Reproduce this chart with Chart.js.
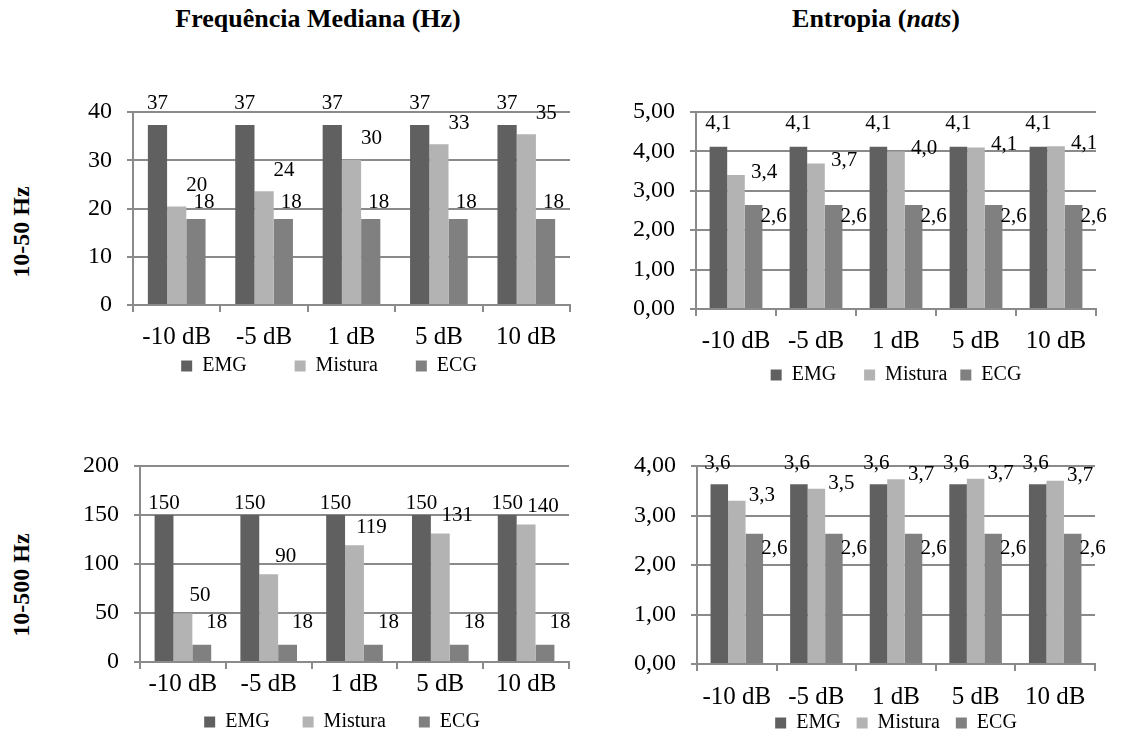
<!DOCTYPE html>
<html lang="pt">
<head>
<meta charset="utf-8">
<title>Frequência Mediana e Entropia</title>
<script src="https://cdn.jsdelivr.net/npm/chart.js@4.4.1/dist/chart.umd.min.js"></script>
<style>
  html, body { margin: 0; padding: 0; background: #fff; overflow: hidden; }
  body { width: 1132px; height: 735px; position: relative; font-family: 'Liberation Serif', 'Times New Roman', serif; color: #000; }
  .title { position: absolute; font-weight: bold; font-size: 26px; line-height: 1; transform: translateX(-50%); white-space: nowrap; }
  .rowlab { position: absolute; font-weight: bold; font-size: 24px; line-height: 1; transform: translate(-50%, -50%) rotate(-90deg); white-space: nowrap; }
  canvas { position: absolute; }
</style>
</head>
<body>
<div class="title" style="left:318px; top:6px;">Frequência Mediana (Hz)</div>
<div class="title" style="left:876px; top:6px;">Entropia (<i>nats</i>)</div>
<div class="rowlab" style="left:21px; top:232px;">10-50 Hz</div>
<div class="rowlab" style="left:21px; top:585px;">10-500 Hz</div>

<canvas id="c-fm50"></canvas>
<canvas id="c-ent50"></canvas>
<canvas id="c-fm500"></canvas>
<canvas id="c-ent500"></canvas>

<script>
// ---- data ----
const categories = ['-10 dB', '-5 dB', '1 dB', '5 dB', '10 dB'];
const seriesNames = ['EMG', 'Mistura', 'ECG'];

// 10-50 Hz, median frequency (Hz)
const fm50Emg     = [37.3, 37.3, 37.3, 37.3, 37.3];
const fm50Mistura = [20.4, 23.6, 30.1, 33.3, 35.4];
const fm50Ecg     = [17.8, 17.8, 17.8, 17.8, 17.8];
const fm50Ticks   = [0, 10, 20, 30, 40];

// 10-50 Hz, entropy (nats)
const ent50Emg     = [4.12, 4.12, 4.12, 4.12, 4.12];
const ent50Mistura = [3.40, 3.69, 4.00, 4.10, 4.13];
const ent50Ecg     = [2.64, 2.64, 2.64, 2.64, 2.64];
const ent50Ticks   = [0, 1, 2, 3, 4, 5];

// 10-500 Hz, median frequency (Hz)
const fm500Emg     = [150, 150, 150, 150, 150];
const fm500Mistura = [49.6, 89.6, 119.2, 131.0, 140.2];
const fm500Ecg     = [17.6, 17.6, 17.6, 17.6, 17.6];
const fm500Ticks   = [0, 50, 100, 150, 200];

// 10-500 Hz, entropy (nats)
const ent500Emg     = [3.63, 3.63, 3.63, 3.63, 3.63];
const ent500Mistura = [3.30, 3.54, 3.73, 3.74, 3.70];
const ent500Ecg     = [2.63, 2.63, 2.63, 2.63, 2.63];
const ent500Ticks   = [0, 1, 2, 3, 4];

// ---- styling ----
const FONT = 'Liberation Serif';
const GRID = '#8a8a8a';
const COLORS = ['#606060', '#b3b3b3', '#808080'];
const LEGEND_FS = 20;

Chart.defaults.font.family = FONT;
Chart.defaults.color = '#000';

const intFmt = (v) => String(Math.round(v));
const dec1 = (v) => v.toFixed(1).replace('.', ',');
const dec2 = (v) => Number(v).toFixed(2).replace('.', ',');

// value labels drawn next to each bar, offset per series (as placed in the original)
function valueLabels(offsets, fmt) {
  return {
    id: 'valueLabels',
    afterDatasetsDraw(chart) {
      const ctx = chart.ctx;
      ctx.save();
      ctx.font = '21px "' + FONT + '"';
      ctx.fillStyle = '#000';
      ctx.textAlign = 'center';
      ctx.textBaseline = 'middle';
      chart.data.datasets.forEach((ds, i) => {
        const [dx, dy] = offsets[i];
        chart.getDatasetMeta(i).data.forEach((bar, j) => {
          ctx.fillText(fmt(ds.data[j]), bar.x + dx, bar.y + dy);
        });
      });
      ctx.restore();
    },
  };
}

function makePanel(p) {
  const cv = document.getElementById(p.id);
  const b = p.box, a = p.area;
  cv.width = b.width;
  cv.height = b.height;
  cv.style.left = b.left + 'px';
  cv.style.top = b.top + 'px';

  // legend sits right under the x axis; its text centre lands on legendY
  const legH = LEGEND_FS + p.legendGap + 10;
  const xH = p.legendY - a.bottom - p.legendGap - LEGEND_FS / 2;
  const pad = {
    left: a.left - b.left - p.yWidth,
    top: a.top - b.top,
    right: b.left + b.width - a.right,
    bottom: b.top + b.height - a.bottom - xH - legH,
  };

  return new Chart(cv.getContext('2d'), {
    type: 'bar',
    data: {
      labels: categories,
      datasets: p.series.map((data, i) => ({
        label: seriesNames[i],
        data,
        backgroundColor: COLORS[i],
        borderWidth: 0,
        categoryPercentage: 0.66,
        barPercentage: 1.0,
      })),
    },
    options: {
      responsive: false,
      animation: false,
      events: [],
      layout: { padding: pad },
      plugins: {
        legend: {
          position: 'bottom',
          fullSize: false,
          labels: {
            font: { size: LEGEND_FS, family: FONT },
            color: '#000',
            boxWidth: 11,
            boxHeight: 11,
            padding: p.legendGap,
            // trailing spaces widen the items like the spacing in the original legend
            generateLabels: (chart) => Chart.defaults.plugins.legend.labels.generateLabels(chart)
              .map((item, i) => Object.assign(item, { text: item.text + ' '.repeat(p.legendSpaces[i]) })),
          },
        },
        tooltip: { enabled: false },
      },
      scales: {
        x: {
          grid: { display: true, drawOnChartArea: false, drawTicks: true, tickLength: 7, color: GRID, lineWidth: 2 },
          border: { display: true, color: GRID, width: 2 },
          ticks: { font: { size: 25 }, color: '#000', padding: p.xPad, maxRotation: 0, minRotation: 0, autoSkip: false },
          afterFit: (s) => { s.height = xH; },
        },
        y: {
          min: p.ticks[0],
          max: p.ticks[p.ticks.length - 1],
          grid: { color: GRID, lineWidth: 2, drawTicks: true, tickLength: 6 },
          border: { display: true, color: GRID, width: 2 },
          ticks: {
            stepSize: p.ticks[1] - p.ticks[0],
            font: { size: 24 },
            color: '#000',
            padding: 15,
            callback: p.tickFmt,
          },
          afterFit: (s) => { s.width = p.yWidth; },
        },
      },
    },
    plugins: [valueLabels(p.labelOffsets, p.labelFmt)],
  });
}

makePanel({
  id: 'c-fm50',
  box: { left: 0, top: 50, width: 590, height: 340 },
  area: { left: 133, top: 112, right: 570, bottom: 305 },
  yWidth: 50, legendY: 366, legendGap: 8, legendSpaces: [8, 6, 9], xPad: 10,
  ticks: fm50Ticks, tickFmt: (v) => String(v),
  series: [fm50Emg, fm50Mistura, fm50Ecg],
  labelOffsets: [[0, -22], [20, -21], [8, -17]], labelFmt: intFmt,
});

makePanel({
  id: 'c-ent50',
  box: { left: 580, top: 50, width: 552, height: 350 },
  area: { left: 696, top: 112, right: 1096, bottom: 309 },
  yWidth: 66, legendY: 375, legendGap: 8, legendSpaces: [4, 1, 0], xPad: 10,
  ticks: ent50Ticks, tickFmt: dec2,
  series: [ent50Emg, ent50Mistura, ent50Ecg],
  labelOffsets: [[0, -23], [28, -3], [20, 12]], labelFmt: dec1,
});

makePanel({
  id: 'c-fm500',
  box: { left: 0, top: 430, width: 590, height: 320 },
  area: { left: 140, top: 466, right: 569, bottom: 662 },
  yWidth: 60, legendY: 722, legendGap: 8, legendSpaces: [5, 5, 5], xPad: 0,
  ticks: fm500Ticks, tickFmt: (v) => String(v),
  series: [fm500Emg, fm500Mistura, fm500Ecg],
  labelOffsets: [[0, -12], [17, -18], [15, -22]], labelFmt: intFmt,
});

makePanel({
  id: 'c-ent500',
  box: { left: 580, top: 430, width: 552, height: 320 },
  area: { left: 697, top: 466, right: 1095, bottom: 664 },
  yWidth: 66, legendY: 723, legendGap: 6, legendSpaces: [2, 2, 0], xPad: 11,
  ticks: ent500Ticks, tickFmt: dec2,
  series: [ent500Emg, ent500Mistura, ent500Ecg],
  labelOffsets: [[-2, -21], [25, -5], [20, 15]], labelFmt: dec1,
});
</script>
</body>
</html>
